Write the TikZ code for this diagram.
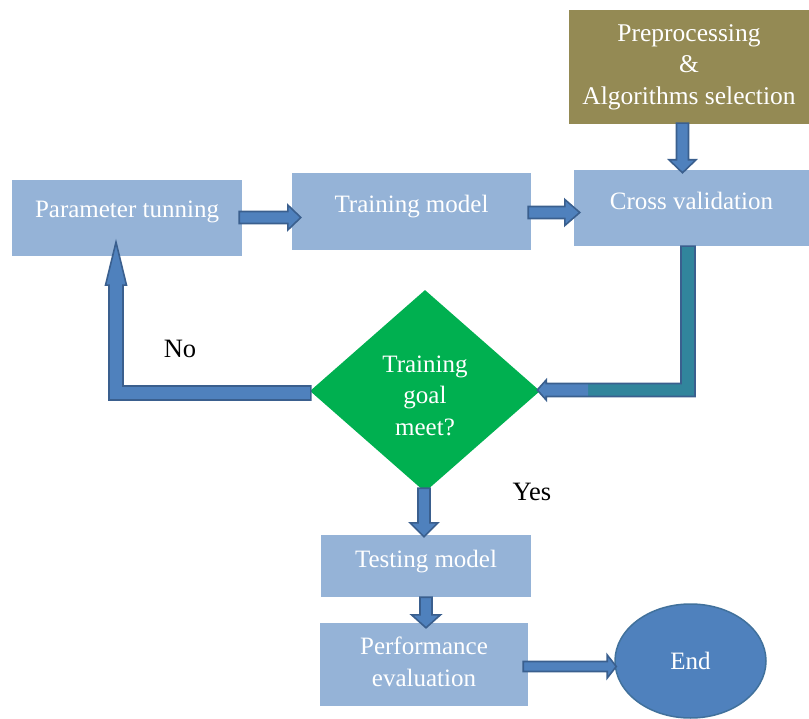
\documentclass[tikz,border=0pt]{standalone}
\usepackage{fontspec}
\setmainfont{Liberation Serif}
\usetikzlibrary{shapes.geometric,calc}
\definecolor{boxblue}{HTML}{95B3D7}
\definecolor{olivebox}{HTML}{948A54}
\definecolor{dgreen}{HTML}{00B050}
\definecolor{arrfill}{HTML}{4F81BD}
\definecolor{arrline}{HTML}{3A5F8E}
\definecolor{tealfill}{HTML}{31859C}
\definecolor{endline}{HTML}{41719C}
% right-pointing block arrow: #1 start, #2 tip, #3 shaft half, #4 head half, #5 head length
\newcommand\rblock[5]{\filldraw[arr, fill=arrfill] let \p1=#1, \p2=#2 in
  (\x1,\y2+#3) -- (\x2-#5,\y2+#3) -- (\x2-#5,\y2+#4) -- (\x2,\y2) -- (\x2-#5,\y2-#4) -- (\x2-#5,\y2-#3) -- (\x1,\y2-#3) -- cycle;}
% down-pointing block arrow
\newcommand\dblock[5]{\filldraw[arr, fill=arrfill] let \p1=#1, \p2=#2 in
  (\x2-#3,\y1) -- (\x2-#3,\y2+#5) -- (\x2-#4,\y2+#5) -- (\x2,\y2) -- (\x2+#4,\y2+#5) -- (\x2+#3,\y2+#5) -- (\x2+#3,\y1) -- cycle;}
\begin{document}
\begin{tikzpicture}[x=1pt,y=-1pt,
  box/.style={rectangle, fill=boxblue, draw=none, inner sep=0pt},
  txt/.style={text=white, font=\fontsize{25}{31.5}\selectfont, align=center, inner sep=0pt},
  plain/.style={text=black, font=\fontsize{26.5}{31.5}\selectfont, inner sep=0pt},
  arr/.style={draw=arrline, line width=1.6pt, line join=miter}]
\useasboundingbox (0,0) rectangle (809,719);
% boxes
\node[box, minimum width=230, minimum height=76, label={[txt,yshift=6pt]center:Parameter tunning}] (pt) at (127,218) {};
\node[box, minimum width=239, minimum height=77, label={[txt,yshift=5pt]center:Training model}] (tm) at (411.5,211.5) {};
\node[box, minimum width=235, minimum height=76, label={[txt,yshift=7pt]center:Cross validation}] (cv) at (691.5,208) {};
\node[rectangle, fill=olivebox, inner sep=0pt, minimum width=240, minimum height=114, label={[txt,font=\fontsize{25.5}{31.5}\selectfont]center:Preprocessing\\\&\\Algorithms selection}] (pp) at (689,67) {};
\node[diamond, fill=dgreen, inner sep=0pt, minimum width=230, minimum height=202, label={[txt,yshift=-4.5pt]center:Training\\goal\\meet?}] (dm) at (425,391) {};
\node[box, minimum width=210, minimum height=62, label={[txt,yshift=4pt]center:Testing model}] (ts) at (426,566) {};
\node[box, minimum width=208, minimum height=83, label={[txt,yshift=2.5pt]center:Performance\\evaluation}] (pe) at (424,664.5) {};
\node[ellipse, fill=arrfill, draw=endline, line width=1.5pt, inner sep=0pt, minimum width=151, minimum height=114, txt] (end) at (690.5,661) {End};
% labels
\node[plain] (no) at (180,349) {No};
\node[plain] (yes) at (532,492) {Yes};
% straight block arrows
\rblock{($(pt.east)+(-3,0)$)}{($(tm.west)+(9,6)$)}{6pt}{12.5pt}{13pt}
\rblock{($(tm.east)+(-3,0)$)}{($(cv.west)+(6,4.5)$)}{6pt}{13pt}{15pt}
\dblock{($(pp.south)+(-6.5,-1)$)}{($(cv.north)+(-9,3)$)}{6pt}{13.5pt}{13pt}
\dblock{($(dm.south)+(0,-4)$)}{($(ts.north)+(-2,2)$)}{6pt}{14pt}{14pt}
\dblock{($(ts.south)+(0,0)$)}{($(pe.north)+(2,5)$)}{6pt}{14.5pt}{13pt}
\rblock{($(pe.east)+(-5,0)$)}{($(end.west)+(2,5.5)$)}{5pt}{11.5pt}{9pt}
% elbow: cross validation -> decision
\fill[tealfill] let \p1=($(cv.south)+(-3.5,0)$), \p2=($(dm.east)+(-3,-1)$) in
  (\x1-7pt,\y1) -- (\x1+7pt,\y1) -- (\x1+7pt,\y2-6.5pt) -- (\x2+9pt,\y2-6.5pt) -- (\x2+9pt,\y2-10pt) -- (\x2,\y2) -- (\x2+9pt,\y2+10pt) -- (\x2+9pt,\y2+6.5pt) -- (\x1-7pt,\y2+6.5pt) -- cycle;
\fill[arrfill] let \p2=($(dm.east)+(-3,-1)$) in
  (\x2+51pt,\y2+6.5pt) -- (\x2+9pt,\y2+6.5pt) -- (\x2+9pt,\y2+10pt) -- (\x2,\y2) -- (\x2+9pt,\y2-10pt) -- (\x2+9pt,\y2-6.5pt) -- (\x2+51pt,\y2-6.5pt) -- cycle;
\draw[arr] let \p1=($(cv.south)+(-3.5,0)$), \p2=($(dm.east)+(-3,-1)$) in
  (\x1-7pt,\y1) -- (\x1+7pt,\y1) -- (\x1+7pt,\y2-6.5pt) -- (\x2+9pt,\y2-6.5pt) -- (\x2+9pt,\y2-10pt) -- (\x2,\y2) -- (\x2+9pt,\y2+10pt) -- (\x2+9pt,\y2+6.5pt) -- (\x1-7pt,\y2+6.5pt) -- cycle;
% elbow: decision (No) -> parameter tunning
\filldraw[arr, fill=arrfill] let \p1=($(dm.west)+(1,2)$), \p2=($(pt.south)+(-11,-14)$) in
  (\x1,\y1+7pt) -- (\x2+7pt,\y1+7pt) -- (\x2+7pt,\y2-43pt) -- (\x2+10.5pt,\y2-43pt) -- (\x2,\y2) -- (\x2-10.5pt,\y2-43pt) -- (\x2-7pt,\y2-43pt) -- (\x2-7pt,\y1-7pt) -- (\x1,\y1-7pt) -- cycle;
\end{tikzpicture}
\end{document}
